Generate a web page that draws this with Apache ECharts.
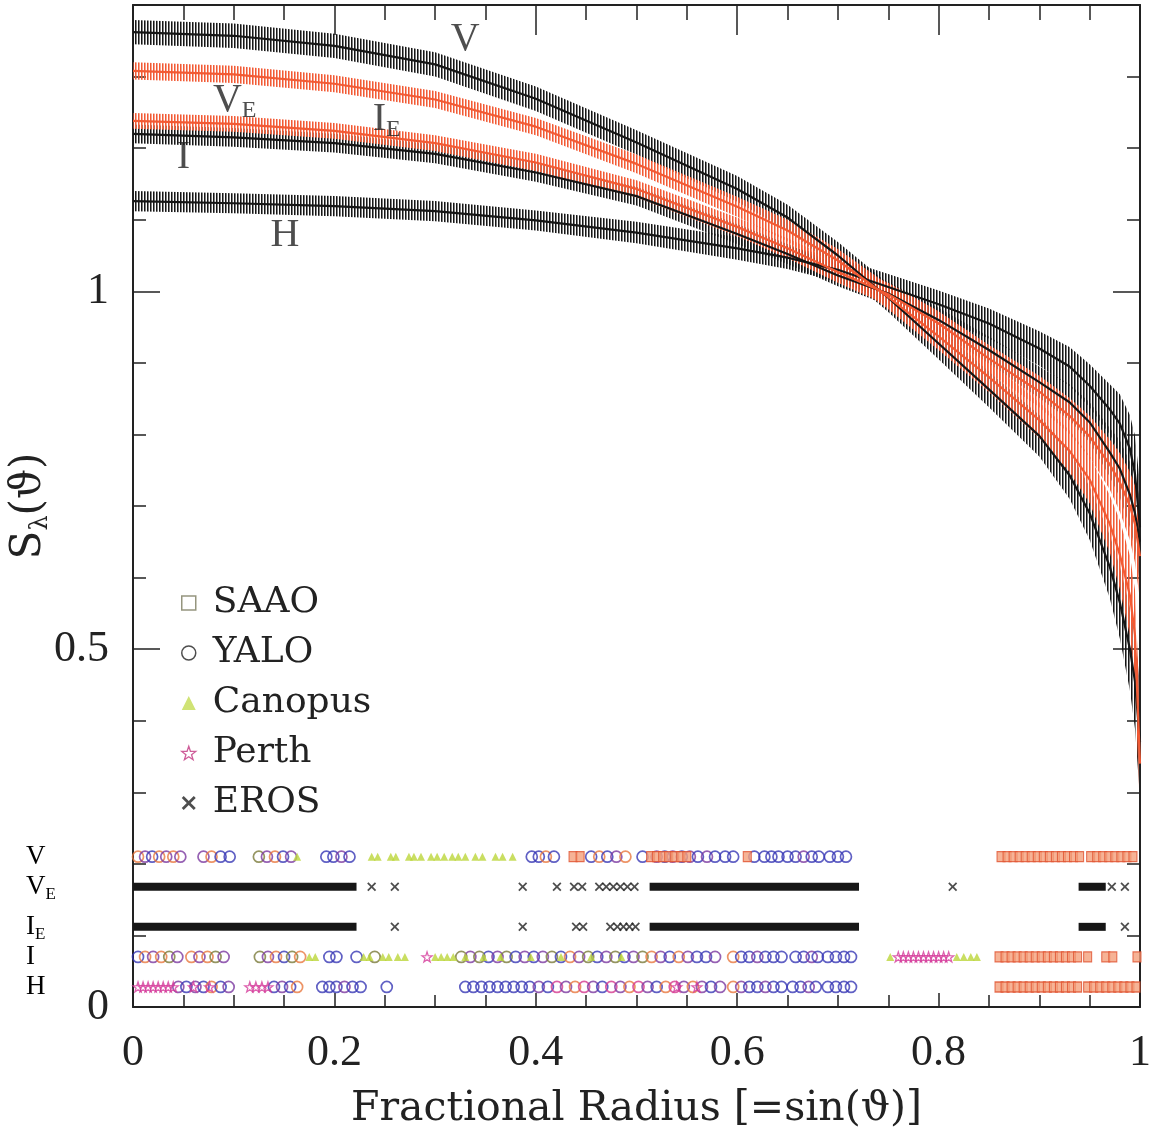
<!DOCTYPE html>
<html>
<head>
<meta charset="utf-8">
<script src="https://cdn.jsdelivr.net/npm/echarts@6/dist/echarts.min.js"></script>
</head>
<body style="margin:0;background:#fff">
<div id="chart" style="width:1157px;height:1131px"></div>
<script>
var radius = [0, 0.1, 0.2, 0.3, 0.4, 0.5, 0.6, 0.65, 0.7, 0.75, 0.8, 0.85, 0.9, 0.93, 0.95, 0.97, 0.98, 0.99, 0.995, 1.0];

var profV  = [1.362, 1.357, 1.343, 1.317, 1.269, 1.208, 1.143, 1.103, 1.050, 0.991, 0.927, 0.863, 0.798, 0.743, 0.690, 0.615, 0.565, 0.500, 0.455, 0.370];
var profVE = [1.308, 1.303, 1.290, 1.268, 1.230, 1.178, 1.118, 1.085, 1.043, 0.992, 0.937, 0.880, 0.820, 0.777, 0.737, 0.675, 0.632, 0.575, 0.520, 0.340];
var profIE = [1.238, 1.234, 1.224, 1.207, 1.180, 1.143, 1.090, 1.060, 1.027, 0.996, 0.955, 0.906, 0.860, 0.826, 0.797, 0.758, 0.733, 0.700, 0.675, 0.630];
var profI  = [1.220, 1.215, 1.207, 1.192, 1.166, 1.133, 1.080, 1.052, 1.022, 0.997, 0.960, 0.918, 0.873, 0.845, 0.817, 0.775, 0.752, 0.716, 0.690, 0.650];
var profH  = [1.126, 1.123, 1.119, 1.112, 1.099, 1.082, 1.060, 1.047, 1.030, 1.006, 0.982, 0.955, 0.920, 0.895, 0.868, 0.835, 0.815, 0.780, 0.745, 0.670];

var errV  = [0.017, 0.017, 0.017, 0.017, 0.017, 0.017, 0.018, 0.018, 0.019, 0.020, 0.022, 0.025, 0.029, 0.033, 0.037, 0.044, 0.050, 0.058, 0.066, 0.078];
var errVE = [0.012, 0.012, 0.012, 0.012, 0.012, 0.013, 0.014, 0.015, 0.016, 0.017, 0.019, 0.021, 0.025, 0.029, 0.033, 0.040, 0.048, 0.056, 0.063, 0.072];
var errIE = [0.011, 0.011, 0.011, 0.011, 0.012, 0.012, 0.013, 0.014, 0.015, 0.016, 0.017, 0.019, 0.022, 0.025, 0.029, 0.035, 0.041, 0.048, 0.054, 0.062];
var errI  = [0.013, 0.013, 0.013, 0.013, 0.013, 0.013, 0.014, 0.014, 0.015, 0.016, 0.017, 0.019, 0.022, 0.025, 0.028, 0.034, 0.040, 0.046, 0.052, 0.060];
var errH  = [0.014, 0.014, 0.014, 0.014, 0.014, 0.015, 0.016, 0.016, 0.017, 0.018, 0.019, 0.021, 0.024, 0.027, 0.030, 0.035, 0.041, 0.047, 0.053, 0.060];

// curve names drawn inside the plot (main letter, subscript) and where they sit
var curveLabelMain = ['V', 'V', 'I', 'I', 'H'];
var curveLabelSub = ['', 'E', 'E', '', ''];
var curveLabelAt = [[0.33, 1.352], [0.101, 1.266], [0.252, 1.24], [0.05, 1.187], [0.151, 1.078]];

// coverage strip at the bottom: one row per band
var rowMain = ['V', 'V', 'I', 'I', 'H'];
var rowSub = ['', 'E', 'E', '', ''];
var rowLevels = [0.21, 0.168, 0.112, 0.07, 0.028];

// YALO circles: [radius, colour group]
var yaloV = [[0.005,2],[0.012,1],[0.019,0],[0.026,2],[0.033,1],[0.040,2],[0.047,1],
  [0.070,1],[0.078,2],[0.087,0],[0.096,0],
  [0.125,3],[0.133,1],[0.141,2],[0.149,0],[0.157,1],
  [0.192,0],[0.199,0],[0.207,1],[0.215,0],
  [0.396,0],[0.403,0],[0.410,2],[0.418,0],
  [0.455,0],[0.463,2],[0.471,0],[0.480,1],[0.489,2],
  [0.506,0],[0.520,1],[0.528,0],[0.536,1],[0.545,0],[0.553,1],[0.561,0],[0.570,1],[0.578,0],
  [0.588,0],[0.596,0],[0.617,0],[0.627,0],[0.634,0],[0.641,0],
  [0.650,0],[0.658,0],[0.666,1],[0.674,0],[0.681,0],
  [0.692,0],[0.700,0],[0.708,0]];
var yaloI = [[0.005,0],[0.012,2],[0.020,1],[0.028,2],[0.036,3],[0.044,1],
  [0.058,2],[0.066,1],[0.074,2],[0.082,3],[0.090,1],
  [0.126,3],[0.134,1],[0.142,2],[0.150,0],[0.158,3],[0.166,2],
  [0.195,0],[0.202,0],[0.222,0],[0.240,3],
  [0.326,3],[0.335,1],[0.344,3],[0.353,0],[0.362,1],[0.371,3],[0.380,0],[0.389,1],[0.398,0],[0.407,1],
  [0.416,3],[0.425,0],[0.434,2],[0.443,1],[0.452,3],[0.461,0],[0.470,1],[0.479,3],[0.488,0],[0.497,1],
  [0.506,3],[0.515,2],[0.524,1],[0.533,0],[0.542,2],[0.551,1],[0.560,0],[0.569,0],[0.578,1],
  [0.596,2],[0.604,0],[0.612,0],[0.620,1],[0.628,0],[0.636,0],[0.644,0],
  [0.658,0],[0.666,0],[0.674,1],[0.680,0],
  [0.690,0],[0.698,0],[0.706,0],[0.713,0]];
var yaloH = [[0.045,1],[0.053,0],[0.062,1],[0.070,0],[0.078,2],[0.087,0],[0.095,1],
  [0.140,0],[0.148,1],[0.156,0],[0.163,2],
  [0.188,0],[0.195,0],[0.202,0],[0.210,1],[0.218,0],[0.226,0],
  [0.252,0],
  [0.330,0],[0.338,0],[0.346,0],[0.354,0],[0.362,0],[0.370,0],[0.378,0],[0.386,0],[0.394,0],
  [0.403,1],[0.412,0],[0.421,4],[0.430,1],[0.439,2],[0.448,4],[0.457,1],[0.466,0],[0.475,4],[0.484,1],
  [0.493,2],[0.502,4],[0.511,1],[0.520,0],[0.529,2],[0.538,4],[0.547,1],[0.556,2],[0.565,1],[0.574,0],[0.583,1],
  [0.596,2],[0.604,1],[0.612,0],[0.620,0],[0.628,1],[0.636,0],[0.644,0],
  [0.655,0],[0.663,0],[0.671,1],[0.678,0],
  [0.690,0],[0.698,0],[0.706,0],[0.713,0]];

var saaoV = [0.437, 0.444, 0.514, 0.520, 0.526, 0.532, 0.538, 0.544, 0.550, 0.610,
  0.862, 0.868, 0.874, 0.880, 0.886, 0.892, 0.898, 0.904, 0.910, 0.916, 0.922, 0.928, 0.934, 0.940,
  0.951, 0.957, 0.963, 0.969, 0.975, 0.981, 0.987, 0.993];
var saaoI = [0.860, 0.866, 0.872, 0.878, 0.884, 0.890, 0.896, 0.902, 0.908, 0.914, 0.920, 0.926, 0.932, 0.938,
  0.948, 0.966, 0.973, 0.997];
var saaoH = [0.860, 0.866, 0.872, 0.878, 0.884, 0.890, 0.896, 0.902, 0.908, 0.914, 0.920, 0.926, 0.932, 0.938,
  0.948, 0.954, 0.960, 0.966, 0.972, 0.978, 0.984, 0.990, 0.996];

var canopusV = [0.163, 0.237, 0.243, 0.256, 0.261, 0.274, 0.279, 0.286, 0.296, 0.302, 0.309, 0.317, 0.323, 0.330,
  0.340, 0.347, 0.360, 0.367, 0.377];
var canopusI = [0.175, 0.181, 0.229, 0.235, 0.248, 0.254, 0.263, 0.270, 0.300, 0.306, 0.312, 0.318, 0.330, 0.348,
  0.365, 0.395, 0.425, 0.455, 0.485, 0.752, 0.818, 0.825, 0.832, 0.838];

var perthI = [0.292, 0.760, 0.765, 0.770, 0.775, 0.780, 0.785, 0.790, 0.795, 0.800, 0.805, 0.810];
var perthH = [0.005, 0.010, 0.015, 0.020, 0.025, 0.030, 0.035, 0.040, 0.060, 0.076, 0.116, 0.122, 0.128, 0.134, 0.540, 0.560];

var erosVE = [0.237, 0.260, 0.387, 0.421, 0.438, 0.446, 0.463, 0.470, 0.477, 0.484, 0.491, 0.498, 0.814, 0.972, 0.985];
var erosIE = [0.260, 0.387, 0.440, 0.447, 0.474, 0.481, 0.487, 0.493, 0.499, 0.985];
// stretches so dense that the crosses merge into a bar: [from, to]
var erosRunsVE = [[0.004, 0.218], [0.517, 0.717], [0.943, 0.962]];
var erosRunsIE = [[0.004, 0.218], [0.517, 0.717], [0.943, 0.962]];

var circleColors = ['#3838b5', '#7c3aa0', '#e8783e', '#7a7a3a', '#d43a8e'];
var crossPath = 'path://M0,1.4L1.4,0L5,3.6L8.6,0L10,1.4L6.4,5L10,8.6L8.6,10L5,6.4L1.4,10L0,8.6L3.6,5Z';
var starPath = 'path://M5,0L6.2,3.6L10,3.7L7,6L8.1,9.6L5,7.5L1.9,9.6L3,6L0,3.7L3.8,3.6Z';

function hatch(color) {
  var c = document.createElement('canvas');
  c.width = 3; c.height = 3;
  var g = c.getContext('2d');
  g.fillStyle = color;
  g.fillRect(0, 0, 1, 3);
  g.globalAlpha = 0.55;
  g.fillRect(1, 0, 1, 3);
  return c;
}

function band(name, vals, errs, color) {
  var rows = radius.map(function (r, i) { return [r, vals[i] - errs[i], vals[i] + errs[i]]; });
  var img = hatch(color);
  return {
    type: 'custom', name: name, xAxisIndex: 0, yAxisIndex: 0, z: 2, silent: true,
    data: rows, encode: { x: 0, y: [1, 2] },
    renderItem: function (params, api) {
      if (params.dataIndex !== 0) return;
      var top = [], bot = [];
      rows.forEach(function (d) {
        top.push(api.coord([d[0], d[2]]));
        bot.unshift(api.coord([d[0], d[1]]));
      });
      return { type: 'polygon', shape: { points: top.concat(bot) }, style: { fill: { image: img, repeat: 'repeat' } } };
    }
  };
}

function curve(name, vals, color) {
  return {
    type: 'line', name: name, xAxisIndex: 0, yAxisIndex: 0, z: 3, symbol: 'none', silent: true,
    smooth: false,
    data: radius.map(function (r, i) { return [r, vals[i]]; }),
    lineStyle: { color: color, width: 2.2, join: 'round' }
  };
}

function richText(main, sub) {
  return '{m|' + main + '}' + (sub ? '{s|' + sub + '}' : '');
}

function atRow(xs, level) {
  return xs.map(function (x) { return [x, level]; });
}

function circlesAtRow(list, level) {
  return list.map(function (p) {
    return { value: [p[0], level], itemStyle: { borderColor: circleColors[p[1]] } };
  });
}

var black = '#161616', orange = '#f25a34';
var serif = 'Liberation Serif', wide = 'DejaVu Serif';
var labelRich = {
  m: { fontFamily: serif, fontSize: 40, color: '#222' },
  s: { fontFamily: serif, fontSize: 24, color: '#222', padding: [20, 0, 0, 0] }
};

var dom = document.getElementById('chart');
var myChart = echarts.init(dom);

var tickStyle = { color: '#222', width: 1.5 };
var frameLine = { show: true, onZero: false, lineStyle: { color: '#222', width: 2 } };

var option = {
  animation: false,
  backgroundColor: '#fff',
  grid: { left: 133, right: 17, top: 5, bottom: 124, containLabel: false, outerBoundsMode: 'none' },
  legend: {
    orient: 'vertical', left: 176, top: 580, itemGap: 14, itemWidth: 14, itemHeight: 14, selectedMode: false,
    textStyle: { fontFamily: wide, fontSize: 36, color: '#222', padding: [0, 0, 0, 12] },
    data: [
      { name: 'SAAO', icon: 'rect', itemStyle: { color: '#fff', borderColor: '#7b7b5e', borderWidth: 1.5 } },
      { name: 'YALO', icon: 'circle', itemStyle: { color: '#fff', borderColor: '#222', borderWidth: 1.5 } },
      { name: 'Canopus', icon: 'triangle', itemStyle: { color: '#c4dc52', borderWidth: 0 } },
      { name: 'Perth', icon: starPath, itemStyle: { color: '#fff', borderColor: '#c2357f', borderWidth: 1.3 } },
      { name: 'EROS', icon: crossPath, itemStyle: { color: '#222', borderWidth: 0 } }
    ]
  },
  xAxis: [
    {
      type: 'value', min: 0, max: 1, interval: 0.2, position: 'bottom',
      axisLine: frameLine, splitLine: { show: false },
      axisTick: { inside: true, length: 14, lineStyle: tickStyle },
      minorTick: { show: true, splitNumber: 4, length: 12, lineStyle: tickStyle },
      axisLabel: { margin: 24, fontFamily: serif, fontSize: 44, color: '#222' },
      name: 'Fractional Radius [=sin(\u03d1)]', nameLocation: 'middle', nameGap: 82,
      nameTextStyle: { fontFamily: wide, fontSize: 41, color: '#222' }
    },
    {
      type: 'value', min: 0, max: 1, interval: 0.2, position: 'top',
      axisLine: frameLine, splitLine: { show: false },
      axisTick: { inside: true, length: 30, lineStyle: tickStyle },
      minorTick: { show: true, splitNumber: 4, length: 15, lineStyle: tickStyle },
      axisLabel: { show: false }
    }
  ],
  yAxis: [
    {
      type: 'value', min: 0, max: 1.4, interval: 0.5, position: 'left',
      axisLine: frameLine, splitLine: { show: false },
      axisTick: { inside: true, length: 27, lineStyle: tickStyle },
      axisLabel: { margin: 24, fontFamily: serif, fontSize: 44, color: '#222', showMaxLabel: false },
      name: 'S{s|\u03bb}(\u03d1)', nameLocation: 'middle', nameGap: 80, nameMoveOverlap: false,
      nameTextStyle: {
        fontFamily: wide, fontSize: 42, color: '#222',
        rich: { s: { fontFamily: wide, fontSize: 24, color: '#222', padding: [24, 0, 0, 0] } }
      }
    },
    {
      type: 'value', min: 0, max: 1.4, interval: 0.1, position: 'left',
      axisLine: { show: false, onZero: false }, splitLine: { show: false },
      axisTick: { inside: true, length: 13, lineStyle: tickStyle }, axisLabel: { show: false }
    },
    {
      type: 'value', min: 0, max: 1.4, interval: 0.5, position: 'right',
      axisLine: frameLine, splitLine: { show: false },
      axisTick: { inside: true, length: 27, lineStyle: tickStyle }, axisLabel: { show: false }
    },
    {
      type: 'value', min: 0, max: 1.4, interval: 0.1, position: 'right',
      axisLine: { show: false, onZero: false }, splitLine: { show: false },
      axisTick: { inside: true, length: 13, lineStyle: tickStyle }, axisLabel: { show: false }
    }
  ],
  series: [
    band('H', profH, errH, black),
    band('I', profI, errI, black),
    band('V', profV, errV, black),
    band('IE', profIE, errIE, orange),
    band('VE', profVE, errVE, orange),
    curve('H', profH, black),
    curve('I', profI, black),
    curve('V', profV, black),
    curve('IE', profIE, orange),
    curve('VE', profVE, orange),
    {
      type: 'scatter', name: 'labels', symbolSize: 0, silent: true, z: 5,
      data: curveLabelAt.map(function (p, i) {
        return { value: p, label: { formatter: richText(curveLabelMain[i], curveLabelSub[i]) } };
      }),
      label: { show: true, position: 'inside', rich: labelRich }
    },
    {
      type: 'scatter', name: 'YALO', symbol: 'circle', symbolSize: 11, z: 4, silent: true,
      itemStyle: { color: 'rgba(255,255,255,0)', borderWidth: 1.7, borderColor: '#3838b5' },
      data: circlesAtRow(yaloV, rowLevels[0]).concat(circlesAtRow(yaloI, rowLevels[3]), circlesAtRow(yaloH, rowLevels[4]))
    },
    {
      type: 'scatter', name: 'SAAO', symbol: 'rect', symbolSize: [8, 10], z: 4, silent: true,
      itemStyle: { color: '#f4a07c', borderColor: '#e0512f', borderWidth: 1.2 },
      data: atRow(saaoV, rowLevels[0]).concat(atRow(saaoI, rowLevels[3]), atRow(saaoH, rowLevels[4]))
    },
    {
      type: 'scatter', name: 'Canopus', symbol: 'triangle', symbolSize: 8, z: 4, silent: true,
      itemStyle: { color: '#bcd63a' },
      data: atRow(canopusV, rowLevels[0]).concat(atRow(canopusI, rowLevels[3]))
    },
    {
      type: 'scatter', name: 'Perth', symbol: starPath, symbolSize: 10, z: 4, silent: true,
      itemStyle: { color: 'rgba(255,255,255,0)', borderColor: '#d43a9a', borderWidth: 1.3 },
      data: atRow(perthI, rowLevels[3]).concat(atRow(perthH, rowLevels[4]))
    },
    {
      type: 'scatter', name: 'EROS', symbol: crossPath, symbolSize: 9, z: 4, silent: true,
      itemStyle: { color: '#222' },
      data: atRow(erosVE, rowLevels[1]).concat(atRow(erosIE, rowLevels[2]))
    },
    {
      type: 'custom', name: 'EROS', z: 4, silent: true,
      data: erosRunsVE.map(function (r) { return [r[0], r[1], rowLevels[1]]; })
        .concat(erosRunsIE.map(function (r) { return [r[0], r[1], rowLevels[2]]; })),
      encode: { x: [0, 1], y: 2 },
      renderItem: function (params, api) {
        var a = api.coord([api.value(0), api.value(2)]);
        var b = api.coord([api.value(1), api.value(2)]);
        return { type: 'rect', shape: { x: a[0] - 4, y: a[1] - 4, width: b[0] - a[0] + 8, height: 8 }, style: { fill: '#161616' } };
      }
    }
  ]
};

myChart.setOption(option);

// band names to the left of the coverage strip
var rowText = rowLevels.map(function (lv, i) {
  var y = myChart.convertToPixel({ yAxisIndex: 0 }, lv);
  return {
    type: 'text', silent: true, x: 26, y: y,
    style: {
      text: richText(rowMain[i], rowSub[i]),
      verticalAlign: 'middle', align: 'left',
      rich: {
        m: { fontFamily: serif, fontSize: 27, color: '#222' },
        s: { fontFamily: serif, fontSize: 17, color: '#222', padding: [16, 0, 0, 0] }
      }
    }
  };
});
myChart.setOption({ graphic: rowText });
</script>
</body>
</html>
